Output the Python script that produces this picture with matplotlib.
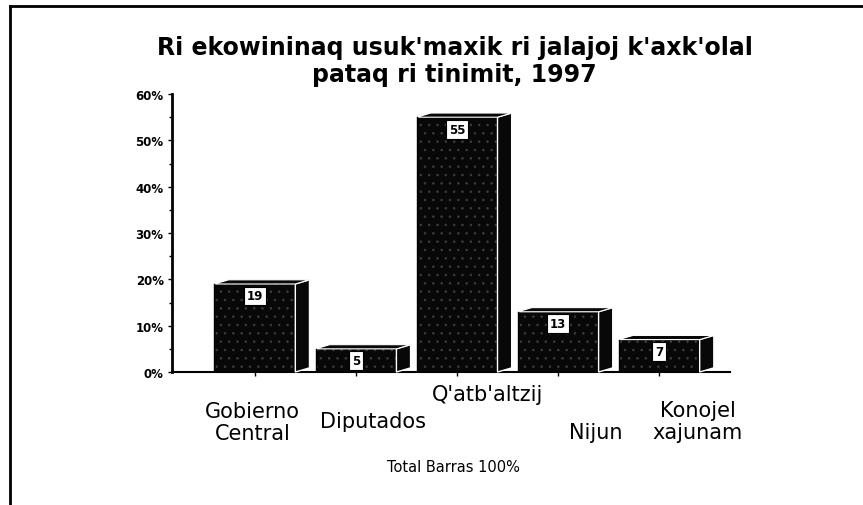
import matplotlib
matplotlib.use('Agg')
import matplotlib.pyplot as plt
from matplotlib.patches import Polygon
from matplotlib.lines import Line2D
from matplotlib.ticker import MultipleLocator, FuncFormatter
import matplotlib.transforms as mtransforms

# Datos
categorias = ['Gobierno\nCentral', 'Diputados', "Q'atb'altzij", 'Nijun', 'Konojel\nxajunam']
valores = [19, 5, 55, 13, 7]
titulo = "Ri ekowininaq usuk'maxik ri jalajoj k'axk'olal\npataq ri tinimit, 1997"
nota = 'Total Barras 100%'

# Posición de las etiquetas (desplazamiento x en categorías, y en fracción del eje)
etiqueta_dx = [-0.02, 0.17, 0.30, 0.37, 0.38]
etiqueta_y = [-0.18, -0.176, -0.079, -0.216, -0.176]

ancho = 0.8
prof_x = 0.14   # profundidad 3D en unidades de categoría
prof_y = 0.9    # profundidad 3D en %

plt.rcParams['hatch.linewidth'] = 0.6

fig = plt.figure(figsize=(8.63, 5.06), dpi=100)
ax = fig.add_axes([0.1993, 0.2628, 0.6466, 0.5494])

x = list(range(len(valores)))
ax.bar(x, valores, width=ancho, color='#080808', edgecolor='#3c3c3c',
       linewidth=0, hatch='..', zorder=2)

for xi, v in zip(x, valores):
    der = xi + ancho / 2
    izq = xi - ancho / 2
    lado = Polygon([(der, 0), (der + prof_x, prof_y), (der + prof_x, v + prof_y), (der, v)],
                   closed=True, facecolor='#080808', edgecolor='white', linewidth=1.0,
                   zorder=3, clip_on=False)
    tapa = Polygon([(izq, v), (izq + prof_x, v + prof_y), (der + prof_x, v + prof_y), (der, v)],
                   closed=True, facecolor='#080808', edgecolor='white', linewidth=0.8,
                   zorder=3, clip_on=False)
    ax.add_patch(lado)
    ax.add_patch(tapa)
    ax.plot([izq, izq], [0, v], color='black', lw=1, zorder=4)
    ax.annotate(str(v), (xi, v), xytext=(0, -12), textcoords='offset pixels',
                ha='center', va='center', fontsize=8.5, fontweight='bold',
                bbox=dict(boxstyle='square,pad=0.25', fc='white', ec='black', lw=0.8),
                zorder=5)

ax.set_xlim(-0.82, 4.70)
ax.set_ylim(0, 60)

ax.spines['top'].set_visible(False)
ax.spines['right'].set_visible(False)
ax.spines['left'].set_linewidth(2)
ax.spines['bottom'].set_linewidth(1.5)

ax.yaxis.set_major_locator(MultipleLocator(10))
ax.yaxis.set_minor_locator(MultipleLocator(5))
ax.yaxis.set_major_formatter(FuncFormatter(lambda v, p: f'{v:.0f}%'))
ax.tick_params(axis='y', which='major', length=3, width=1, labelsize=8.5, pad=3)
ax.tick_params(axis='y', which='minor', length=2, width=1)
for lab in ax.get_yticklabels():
    lab.set_fontweight('bold')

ax.set_xticks(x)
ax.set_xticklabels([])
ax.tick_params(axis='x', length=3, width=1)

trans = mtransforms.blended_transform_factory(ax.transData, ax.transAxes)
for xi, cat, dx, ty in zip(x, categorias, etiqueta_dx, etiqueta_y):
    ax.text(xi + dx, ty, cat, transform=trans, ha='center', va='center',
            fontsize=15, linespacing=1.15)

fig.text(0.527, 0.879, titulo, ha='center', va='center', fontsize=17,
         fontweight='bold', linespacing=1.15)
fig.text(0.525, 0.077, nota, ha='center', va='center', fontsize=10.5)

# Marco del documento escaneado
fig.add_artist(Line2D([0.0116, 1.0], [0.986, 0.986], color='black', lw=2))
fig.add_artist(Line2D([0.0116, 0.0116], [0.0, 0.986], color='black', lw=2))

fig.savefig('out.png', dpi=100)
